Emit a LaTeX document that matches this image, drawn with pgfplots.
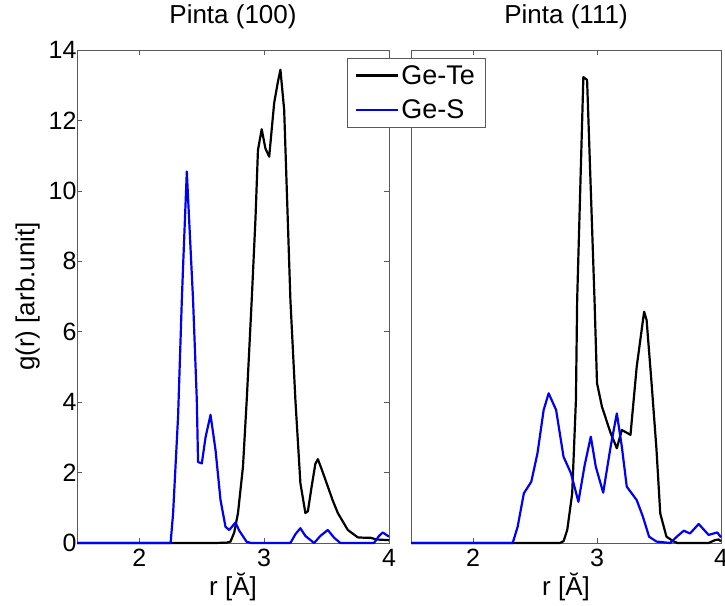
\documentclass[border=0pt]{standalone}
\usepackage{fontspec}
\setmainfont{Liberation Sans}
\usepackage{pgfplots}
\pgfplotsset{compat=1.18}
\definecolor{mblue}{RGB}{0,0,245}
\definecolor{axgray}{RGB}{90,90,90}
\pgfplotsset{
  common/.style={
    scale only axis,
    height=493pt,
    xmin=1.5, xmax=4, ymin=0, ymax=14,
    xtick={2,3,4},
    axis line style={axgray, line width=0.7pt},
    every tick/.style={axgray, line width=0.7pt},
    major tick length=5pt,
    tick align=inside,
    clip=false,
    font=\fontsize{26}{30}\selectfont,
    tick label style={font=\fontsize{25}{29}\selectfont},
    /pgf/number format/assume math mode=true,
    xticklabel style={yshift=-3pt},
    yticklabel style={xshift=3pt},
    title style={at={(axis description cs:0.5,1.042)}, anchor=base, font=\fontsize{26}{30}\selectfont},
    xlabel style={at={(axis description cs:0.5,-0.1055)}, anchor=base},
    xlabel={r [Ă]},
    every axis plot/.append style={line width=2.2pt, line join=round},
  }
}
\begin{document}
\begin{tikzpicture}
\useasboundingbox (0pt,0pt) rectangle (725pt,605pt);
% right panel
\begin{axis}[common, at={(411pt,62pt)}, anchor=south west, width=310pt,
  ytick=\empty, title={Pinta (111)}]
\addplot[black] coordinates {(1.5,0) (2.70,0) (2.73,0.05) (2.76,0.37) (2.80,1.41) (2.83,4.06) (2.84,6.9) (2.89,13.23) (2.92,13.15) (2.98,6.9) (3.00,4.54) (3.04,3.87) (3.11,3.12) (3.16,2.69) (3.20,3.21) (3.27,3.07) (3.32,5.0) (3.38,6.57) (3.40,6.33) (3.44,4.54) (3.48,2.64) (3.51,0.84) (3.56,0.18) (3.62,0.04) (3.65,0) (3.90,0) (3.95,0.08) (3.98,0.1) (4.0,0.05)};
\addplot[mblue] coordinates {(1.5,0) (2.32,0) (2.36,0.46) (2.41,1.41) (2.47,1.74) (2.52,2.55) (2.57,3.78) (2.61,4.25) (2.67,3.78) (2.73,2.45) (2.79,1.98) (2.85,1.17) (2.90,2.2) (2.95,3.02) (2.99,2.17) (3.05,1.43) (3.11,2.74) (3.16,3.68) (3.20,2.74) (3.24,1.6) (3.32,1.22) (3.37,0.75) (3.42,0.18) (3.48,0.04) (3.59,0) (3.65,0.2) (3.70,0.35) (3.75,0.27) (3.82,0.54) (3.90,0.23) (3.97,0.3) (4.0,0.16)};
\end{axis}
% left panel
\begin{axis}[common, at={(77pt,62pt)}, anchor=south west, width=312pt,
  ytick={0,2,...,14}, title={Pinta (100)},
  ylabel={g(r) [arb.unit]},
  ylabel style={at={(axis description cs:-0.137,0.5)}, anchor=base, rotate=0},
  legend style={at={(axis description cs:0.865,0.984)}, anchor=north west,
    draw=axgray, fill=white, line width=0.7pt, font=\fontsize{27}{31}\selectfont,
    row sep=10pt, inner xsep=8pt, inner ysep=5pt},
  legend cell align=left,
  legend image code/.code={\draw[#1] (0pt,0pt) -- (42pt,0pt);},
]
\addplot[black] coordinates {(1.5,0) (2.6,0) (2.70,0.01) (2.73,0.04) (2.76,0.3) (2.79,0.85) (2.83,2.17) (2.86,4.06) (2.90,6.9) (2.93,9.2) (2.95,11.16) (2.98,11.75) (3.01,11.2) (3.04,10.97) (3.08,12.5) (3.11,13.1) (3.13,13.44) (3.16,12.3) (3.21,6.9) (3.25,4.06) (3.29,1.7) (3.33,0.85) (3.35,0.9) (3.38,1.6) (3.41,2.25) (3.43,2.38) (3.46,2.1) (3.51,1.6) (3.55,1.2) (3.59,0.85) (3.67,0.37) (3.75,0.16) (3.80,0.15) (3.85,0.15) (3.9,0.1) (4.0,0.08)};
\addlegendentry{Ge-Te}
\addplot[mblue] coordinates {(1.5,0) (2.25,0) (2.27,0.84) (2.31,3.6) (2.34,6.9) (2.35,7.85) (2.38,10.55) (2.39,9.8) (2.43,6.9) (2.46,4.06) (2.47,2.3) (2.50,2.26) (2.53,3.0) (2.57,3.64) (2.61,2.64) (2.65,1.22) (2.69,0.46) (2.72,0.37) (2.77,0.58) (2.80,0.35) (2.86,0.03) (2.9,0) (3.21,0) (3.25,0.25) (3.29,0.42) (3.33,0.2) (3.40,0) (3.45,0.2) (3.51,0.37) (3.56,0.15) (3.61,0) (3.88,0) (3.92,0.2) (3.95,0.3) (4.0,0.18)};
\addlegendentry{Ge-S}
\end{axis}
\end{tikzpicture}
\end{document}
